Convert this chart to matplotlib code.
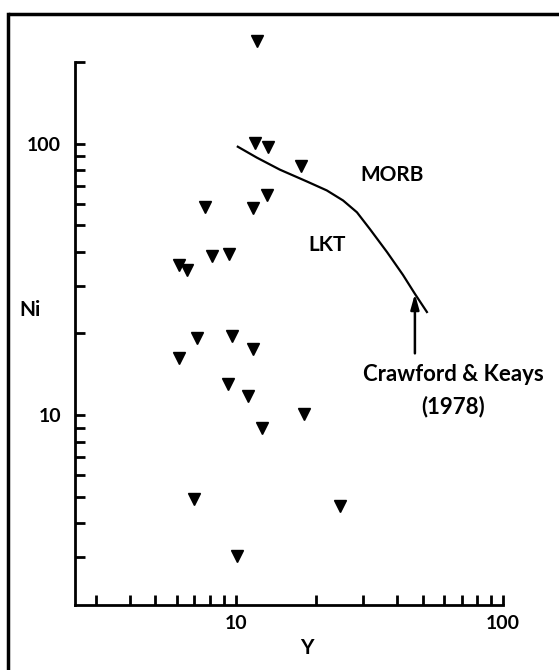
import matplotlib
matplotlib.use("Agg")
import matplotlib.pyplot as plt
from matplotlib.lines import Line2D
from matplotlib.ticker import FixedLocator, NullFormatter, FixedFormatter

# Data: samples (Y ppm, Ni ppm)
y_ppm = [11.98, 11.8, 13.2, 13.1, 7.66, 11.6, 8.13, 9.41, 6.12, 6.55, 7.14,
         9.66, 17.5, 11.6, 6.12, 9.33, 11.1, 12.5, 6.97, 10.1, 18.0, 24.5]
ni_ppm = [238, 101, 97.5, 65, 58.3, 57.8, 38.5, 39.2, 35.7, 34.3, 19.3,
          19.6, 83, 17.5, 16.2, 13.0, 11.8, 8.96, 4.92, 3.02, 10.1, 4.64]

# Crawford & Keays (1978) MORB / LKT boundary
curve_y = [10.17, 11.98, 14.6, 18.45, 21.9, 25.2, 28.4, 31.8, 36.8, 42.2, 46.8, 51.9]
curve_ni = [97.5, 88.9, 80.3, 72.6, 67.3, 61.8, 55.9, 48.4, 39.9, 32.9, 28.0, 24.0]

x_ticks = [10, 100]
x_tick_labels = ["10", "100"]
y_ticks = [10, 100]
y_tick_labels = ["10", "100"]

FONT = ["Lato", "DejaVu Sans"]

fig = plt.figure(figsize=(5.59, 6.70), dpi=100)
ax = fig.add_axes([75/559, 1-605/670, (503-75)/559, (605-62)/670])
ax.set_xscale("log")
ax.set_yscale("log")
ax.set_xlim(2.5, 100)
ax.set_ylim(2, 200)

ax.plot(y_ppm, ni_ppm, linestyle="none", marker="v", markersize=8,
        color="black", clip_on=False)
ax.plot(curve_y, curve_ni, color="black", linewidth=1.6)

ax.annotate("", xy=(46.8, 28.0), xytext=(46.8, 16.9),
            arrowprops=dict(arrowstyle="-|>,head_length=0.9,head_width=0.25",
                            color="black", lw=1.8, shrinkA=0, shrinkB=0))

ax.text(38.4, 76.9, "MORB", ha="center", va="center", fontsize=15,
        fontweight="bold", family=FONT)
ax.text(21.9, 42.3, "LKT", ha="center", va="center", fontsize=15,
        fontweight="bold", family=FONT)
ax.text(65, 14.1, "Crawford & Keays", ha="center", va="center", fontsize=16,
        fontweight="bold", family=FONT)
ax.text(65, 10.8, "(1978)", ha="center", va="center", fontsize=16,
        fontweight="bold", family=FONT)

for s in ["top", "right"]:
    ax.spines[s].set_visible(False)
for s in ["left", "bottom"]:
    ax.spines[s].set_linewidth(2.0)

ax.xaxis.set_major_locator(FixedLocator(x_ticks))
ax.xaxis.set_major_formatter(FixedFormatter(x_tick_labels))
ax.xaxis.set_minor_locator(FixedLocator([3, 4, 5, 6, 7, 8, 9, 20, 30, 40, 50, 60, 70, 80, 90]))
ax.xaxis.set_minor_formatter(NullFormatter())
ax.yaxis.set_major_locator(FixedLocator(y_ticks))
ax.yaxis.set_major_formatter(FixedFormatter(y_tick_labels))
ax.yaxis.set_minor_locator(FixedLocator([3, 4, 5, 6, 7, 8, 9, 20, 30, 40, 50, 60, 70, 80, 90, 200]))
ax.yaxis.set_minor_formatter(NullFormatter())
ax.tick_params(which="both", direction="in", length=7, width=2.0)
ax.tick_params(axis="x", which="both", pad=7.5)
ax.tick_params(axis="y", which="both", pad=10)
for lab in ax.get_xticklabels() + ax.get_yticklabels():
    lab.set_family(FONT)
    lab.set_fontweight("bold")
    lab.set_fontsize(14)

fig.text(307/559, 1-648/670, "Y", ha="center", va="center", fontsize=15,
         fontweight="bold", family=FONT)
fig.text(30/559, 1-310/670, "Ni", ha="center", va="center", fontsize=15,
         fontweight="bold", family=FONT)

# outer frame (top and left edges visible)
fig.add_artist(Line2D([10/559, 1.0], [1-14/670, 1-14/670], color="black",
                      linewidth=2.5, transform=fig.transFigure))
fig.add_artist(Line2D([8/559, 8/559], [0.0, 1-14/670], color="black",
                      linewidth=2.5, transform=fig.transFigure))

fig.savefig("out.png", dpi=100)
